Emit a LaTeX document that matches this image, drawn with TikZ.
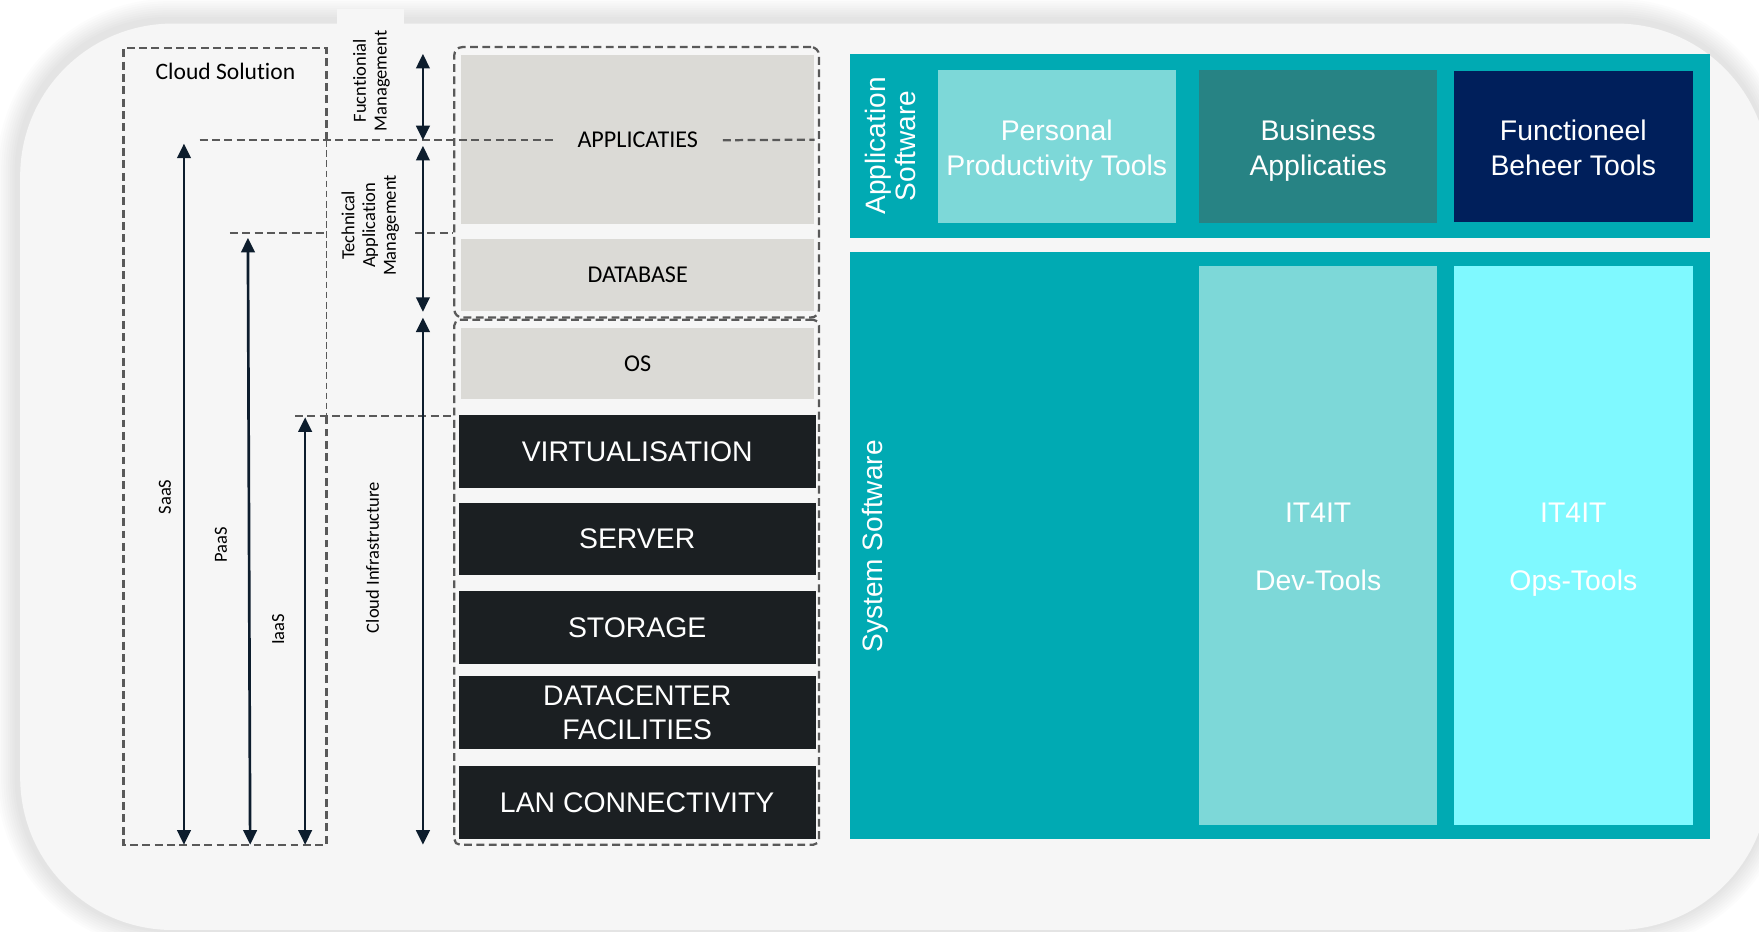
\documentclass[tikz,border=0pt]{standalone}
\usepackage{fontspec}
\setmainfont{Carlito}[Ligatures=NoCommon]
\newfontfamily\arialfont{Liberation Sans}
\usetikzlibrary{arrows.meta}

\definecolor{pagebg}{HTML}{F6F6F6}
\definecolor{dashgrey}{HTML}{595959}
\definecolor{arrownavy}{HTML}{0D1D2D}
\definecolor{stonegrey}{HTML}{DBDAD6}
\definecolor{infrablack}{HTML}{1B1F22}
\definecolor{panelteal}{HTML}{00AAB3}
\definecolor{lightteal}{HTML}{7DD8D8}
\definecolor{darkteal}{HTML}{278384}
\definecolor{navyblue}{HTML}{001F5B}
\definecolor{cyanbox}{HTML}{7FF9FF}

\tikzset{
  guide/.style={draw=dashgrey, line width=2pt, dash pattern=on 7pt off 4pt},
  thinguide/.style={draw=dashgrey, line width=0.9pt, dash pattern=on 6pt off 3pt},
  span/.style={draw=arrownavy, line width=2.4pt,
    {Triangle[length=13pt,width=12pt]}-{Triangle[length=13pt,width=12pt]}},
  layerbox/.style={rectangle, draw=dashgrey, line width=2pt, dash pattern=on 7pt off 4pt,
    rounded corners=7pt},
  stone/.style={rectangle, fill=stonegrey, inner sep=0pt, minimum width=315pt,
    font=\fontsize{21.5}{25}\selectfont, text=black},
  infra/.style={rectangle, fill=infrablack, inner sep=0pt, minimum width=318pt,
    minimum height=65pt, font=\arialfont\fontsize{25.3}{30}\selectfont, text=white, align=center},
  tile/.style={rectangle, inner sep=0pt},
  tiletext/.style={inner sep=0pt, font=\arialfont\fontsize{25.3}{31}\selectfont,
    text=white, align=center},
  sidelabel/.style={rotate=90, align=center, font=\fontsize{16.5}{18.5}\selectfont, text=black},
  paneltitle/.style={rotate=90, align=center, font=\arialfont\fontsize{25}{27}\selectfont, text=white},
}

\begin{document}
\begin{tikzpicture}[x=1pt, y=-1pt]
\useasboundingbox (0,0) rectangle (1568,830);

% soft shadow round the rounded sheet
\foreach \k in {1,...,9}{
  \fill[black, opacity=0.011, rounded corners=136pt+\k*2pt]
    (18-\k*2-3, 21-\k*2-4) rectangle (1577+\k*2, 829+\k*2);
}
% the sheet
\fill[pagebg, rounded corners=136pt] (18,21) rectangle (1577,829);
\fill[pagebg] (300,8) rectangle (360,30);

% ---------- stack of layers ----------
\node[stone, minimum height=151pt] (appblk) at (568.5,124.5) {};
\node[stone, minimum height=64pt] (dbblk) at (568.5,245) {DATABASE};
\node[stone, minimum height=64pt] (osblk) at (568.5,324) {OS};
\node[infra] (virt) at (568,402.5) {VIRTUALISATION};
\node[infra] (serv) at (568,480.5) {SERVER};
\node[infra] (stor) at (568,559.5) {STORAGE};
\node[infra] (dcf)  at (568,635.5) {DATACENTER\\FACILITIES};
\node[infra] (lan)  at (568,715.5) {LAN CONNECTIVITY};

% dashed groupings round the stack
\node[layerbox, minimum width=325pt, minimum height=241pt] (appgroup) at (567.5,162.5) {};
\node[layerbox, minimum width=325pt, minimum height=468pt, rounded corners=5pt] (infragroup) at (567.5,519) {};

% ---------- cloud solution frame ----------
\draw[guide] (291,125) -- (291,43) -- (110,43) -- (110,753) -- (291,753) -- (291,371);
\draw[thinguide] (291,125) -- (291,371);
\node[font=\fontsize{21}{24}\selectfont] (cloudsol) at (201,64) {Cloud Solution};

% level guides
\node[font=\fontsize{21.5}{25}\selectfont, inner xsep=22pt, inner ysep=0pt] (apptxt) at (568.5,125) {APPLICATIES};
\coordinate (saasline) at (178,125);
\draw[guide] (saasline) -- (apptxt.west);
\draw[guide] (apptxt.east) -- (appblk.east);
\coordinate (paasline) at (205,208);
\draw[guide] (paasline) -- (291,208);
\draw[guide] (370,208) -- (appgroup.west |- 0,208);
\coordinate (iaasline) at (263,371);
\draw[guide] (iaasline) -- (infragroup.west |- 0,371);

% ---------- service model spans ----------
\coordinate (saasT) at (164,128);
\coordinate (saasB) at (164,753);
\coordinate (paasT) at (221,212);
\coordinate (paasB) at (223,753);
\coordinate (iaasT) at (272,372);
\coordinate (iaasB) at (272,753);
\draw[span] (saasB) -- (saasT);
\draw[span] (paasB) -- (paasT);
\draw[span] (iaasB) -- (iaasT);
\node[sidelabel] (saas) at (147,443) {SaaS};
\node[sidelabel] (paas) at (197,486) {PaaS};
\node[sidelabel] (iaas) at (248,561) {IaaS};

% ---------- management spans ----------
\coordinate (fmT) at (377,48);
\coordinate (fmB) at (377,125);
\coordinate (tamT) at (377,130);
\coordinate (tamB) at (377,278);
\coordinate (ciT) at (377,283);
\coordinate (ciB) at (377,753);
\draw[span] (fmB) -- (fmT);
\draw[span] (tamB) -- (tamT);
\draw[span] (ciB) -- (ciT);
\node[sidelabel] (fm) at (331,72) {Fucntionial\\Management};
\node[sidelabel] (tam) at (330,201) {Technical\\Application\\Management};
\node[sidelabel] (ci) at (332,497) {Cloud Infrastructure};

% ---------- software landscape ----------
\node[rectangle, fill=panelteal, minimum width=766pt, minimum height=164pt, inner sep=0pt] (apppanel) at (1141,130) {};
\node[rectangle, fill=panelteal, minimum width=766pt, minimum height=523pt, inner sep=0pt] (syspanel) at (1141,486.5) {};
\node[paneltitle] (apptitle) at (794,130) {Application\\Software};
\node[paneltitle] (systitle) at (780,487) {System Software};

\node[tile, fill=lightteal, minimum width=212pt, minimum height=137pt] (ppt) at (942,130.5) {};
\node[tile, fill=darkteal, minimum width=212pt, minimum height=137pt] (bizapp) at (1175,130.5) {};
\node[tile, fill=navyblue, minimum width=213pt, minimum height=135pt] (fbt) at (1402.5,130.5) {};
\node[tile, fill=lightteal, minimum width=212pt, minimum height=498pt] (dev) at (1175,486) {};
\node[tile, fill=cyanbox, minimum width=213pt, minimum height=498pt] (ops) at (1402.5,486) {};

\node[tiletext, yshift=-3.5pt] (ppttxt) at (ppt.center) {Personal\\Productivity Tools};
\node[tiletext, yshift=-3.5pt] (biztxt) at (bizapp.center) {Business\\Applicaties};
\node[tiletext, yshift=-3.5pt] (fbttxt) at (fbt.center) {Functioneel\\Beheer Tools\vphantom{p}};
\node[tiletext, yshift=-4pt] (devtxt) at (dev.center) {IT4IT\\[29pt]Dev-Tools\vphantom{p}};
\node[tiletext, yshift=-4pt] (opstxt) at (ops.center) {IT4IT\\[29pt]Ops-Tools};
\end{tikzpicture}
\end{document}
